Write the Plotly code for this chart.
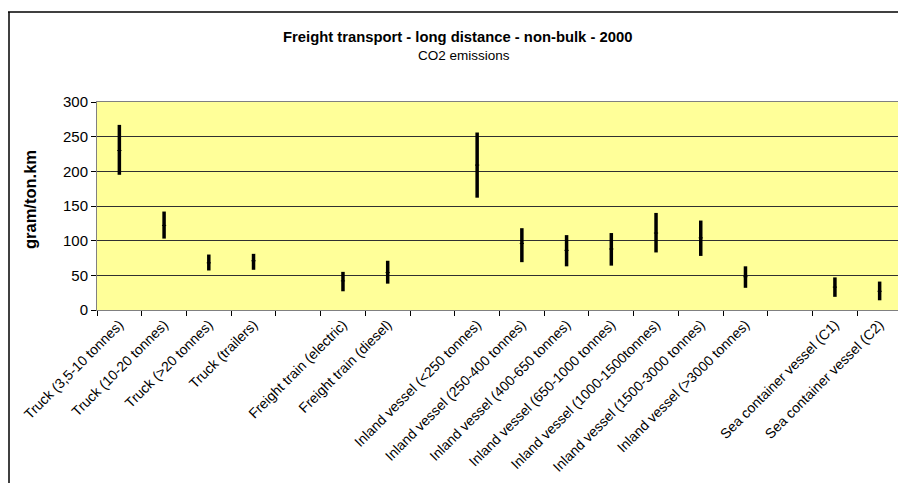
import plotly.graph_objects as go

categories = [
    "Truck (3,5-10 tonnes)", "Truck (10-20 tonnes)", "Truck (>20 tonnes)", "Truck (trailers)",
    " ",
    "Freight train (electric)", "Freight train (diesel)",
    "  ",
    "Inland vessel (<250 tonnes)", "Inland vessel (250-400 tonnes)", "Inland vessel (400-650 tonnes)",
    "Inland vessel (650-1000 tonnes)", "Inland vessel (1000-1500tonnes)", "Inland vessel (1500-3000 tonnes)",
    "Inland vessel (>3000 tonnes)",
    "   ",
    "Sea container vessel (C1)", "Sea container vessel (C2)",
]
high_values = [267, 142, 80, 81, None, 55, 71, None, 256, 118, 108, 111, 140, 129, 63, None, 47, 41]
low_values = [195, 103, 57, 58, None, 27, 38, None, 162, 69, 63, 64, 83, 78, 32, None, 19, 14]
mid_values = [230, 122, 68, 71, None, 42, 54, None, 209, 96, 86, 88, 111, 104, 48, None, 33, 27]
y_ticks = [0, 50, 100, 150, 200, 250, 300]

OFF = 8  # page body margin
W, H = 906 - OFF, 483 - OFF
L, R, T, B = 97 - OFF, 902 - OFF, 102 - OFF, 310 - OFF


def px(x):
    return (x - OFF - L) / (R - L)


def py(y):
    return (B - (y - OFF)) / (B - T)


xs, ys, ep, em = [], [], [], []
for c, h, lo, m in zip(categories, high_values, low_values, mid_values):
    if h is None:
        continue
    xs.append(c)
    ys.append(m)
    ep.append(h - m)
    em.append(m - lo)

fig = go.Figure()
fig.add_trace(go.Scatter(
    x=xs, y=ys, mode="markers",
    marker=dict(symbol="line-ew", size=3, line=dict(color="#000000", width=1)),
    error_y=dict(type="data", symmetric=False, array=ep, arrayminus=em,
                 color="#000000", thickness=3.5, width=0),
    showlegend=False, hoverinfo="skip",
))

font = "Liberation Sans, Arial, sans-serif"
fig.update_layout(
    width=W, height=H,
    margin=dict(l=L, r=W - R, t=T, b=H - B),
    paper_bgcolor="#FFFFFF",
    plot_bgcolor="#FFFF99",
    font=dict(family=font, size=14, color="#000000"),
    showlegend=False,
    xaxis=dict(
        type="category", categoryorder="array", categoryarray=categories,
        tickmode="array", tickvals=categories, ticktext=categories,
        range=[-0.5, len(categories) - 0.5],
        tickson="boundaries", ticks="outside", ticklen=5, tickcolor="#000000",
        tickangle=-45, tickfont=dict(family=font, size=14, color="#000000"),
        showline=True, linecolor="#808080", linewidth=1, mirror=True,
        showgrid=False, zeroline=False,
    ),
    yaxis=dict(
        range=[0, 300], tickmode="array", tickvals=y_ticks,
        ticks="outside", ticklen=5, tickcolor="#000000",
        tickfont=dict(family=font, size=15, color="#000000"),
        showline=True, linecolor="#808080", linewidth=1, mirror=True,
        showgrid=True, gridcolor="#303030", gridwidth=1, zeroline=False,
    ),
    annotations=[
        dict(text="<b>Freight transport - long distance - non-bulk - 2000</b>",
             xref="paper", yref="paper", x=px(457), y=py(37), showarrow=False,
             xanchor="center", yanchor="middle", font=dict(family=font, size=14.8)),
        dict(text="CO2 emissions",
             xref="paper", yref="paper", x=px(464), y=py(56), showarrow=False,
             xanchor="center", yanchor="middle", font=dict(family=font, size=13.5)),
        dict(text="<b>gram/ton.km</b>", textangle=-90,
             xref="paper", yref="paper", x=px(30), y=py(200), showarrow=False,
             xanchor="center", yanchor="middle", font=dict(family=font, size=16.5)),
    ],
    shapes=[
        dict(type="line", xref="paper", yref="paper", x0=px(8), x1=px(905), y0=py(12), y1=py(12),
             line=dict(color="#000000", width=1.5)),
        dict(type="line", xref="paper", yref="paper", x0=px(9), x1=px(9), y0=py(12), y1=py(490),
             line=dict(color="#000000", width=1.5)),
        dict(type="line", xref="paper", yref="paper", x0=px(905), x1=px(905), y0=py(12), y1=py(490),
             line=dict(color="#808080", width=1.5)),
    ],
)

fig.write_html("out.html")
